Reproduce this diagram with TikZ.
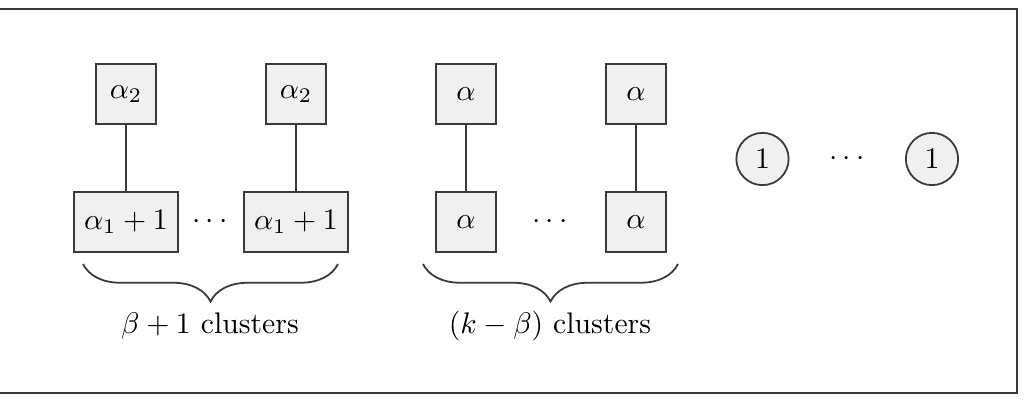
\documentclass[tikz,border=0pt]{standalone}
\usetikzlibrary{decorations.pathreplacing}
\definecolor{boxfill}{HTML}{F0F0F0}
\definecolor{lin}{HTML}{3A3A3A}
\begin{document}
\begin{tikzpicture}[x=0.336pt,y=-0.336pt,
  sq/.style={draw=lin,fill=boxfill,line width=0.6pt,minimum width=20.2pt,minimum height=20.2pt,inner sep=3.33pt},
  rnd/.style={circle,draw=lin,fill=boxfill,line width=0.6pt,inner sep=3.33pt},
  link/.style={draw=lin,line width=0.6pt},
  brc/.style={draw=lin,line width=0.6pt,decorate,decoration={brace,mirror,amplitude=12.6pt}},
  frm/.style={draw=lin,line width=0.8pt}]
\useasboundingbox (0,0) rectangle (1024,403);
\draw[frm] (-5,9) rectangle (1017,393);
% first group
\node[sq] (a2L) at (126,94) {$\alpha_2$};
\node[sq] (a2R) at (296,94) {$\alpha_2$};
\node[sq] (a1L) at (126,222) {$\alpha_1+1$};
\node[sq] (a1R) at (296,222) {$\alpha_1+1$};
\node (d1) at (210,222) {$\cdots$};
\draw[link] (a2L) -- (a2L |- a1L.north);
\draw[link] (a2R) -- (a2R |- a1R.north);
% second group
\node[sq] (aTL) at (466,94) {$\alpha$};
\node[sq] (aTR) at (636,94) {$\alpha$};
\node[sq] (aBL) at (466,222) {$\alpha$};
\node[sq] (aBR) at (636,222) {$\alpha$};
\node (d2) at (550,222) {$\cdots$};
\draw[link] (aTL) -- (aBL);
\draw[link] (aTR) -- (aBR);
% circles
\node[rnd] (c1) at (762.5,159) {$1$};
\node[rnd] (c2) at (932,159) {$1$};
\node (d3) at (847,159) {$\cdots$};
% braces
\coordinate (b1s) at (83,264);
\coordinate (b1e) at (338,264);
\coordinate (b2s) at (423,264);
\coordinate (b2e) at (678,264);
\draw[brc] (b1s) -- (b1e);
\draw[brc] (b2s) -- (b2e);
\node (l1) at (210,326) {$\beta+1$ clusters};
\node (l2) at (550,326) {$(k-\beta)$ clusters};
\end{tikzpicture}
\end{document}
